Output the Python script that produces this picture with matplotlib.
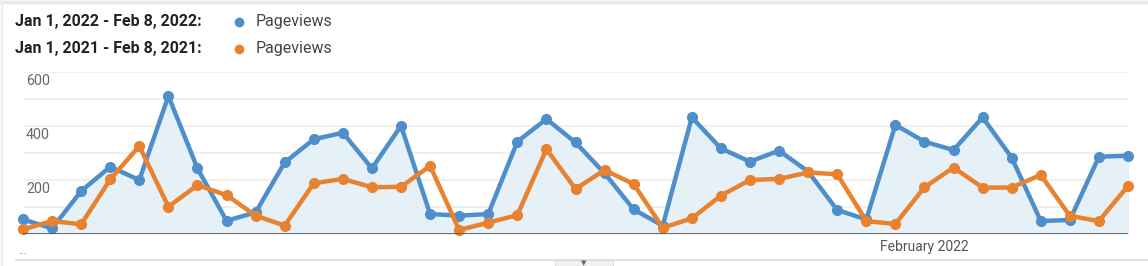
import matplotlib.pyplot as plt
from matplotlib.patches import Rectangle
from matplotlib.lines import Line2D

plt.rcParams['font.family'] = ['Roboto', 'DejaVu Sans']

# daily pageviews, Jan 1 - Feb 8
days = list(range(39))
views_2022 = [54, 21, 159, 249, 200, 511, 243, 49, 80, 265, 351, 375, 243, 401,
              74, 68, 74, 342, 426, 339, 225, 91, 31, 432, 317, 268, 309, 231,
              89, 54, 404, 342, 311, 432, 283, 48, 52, 286, 290]
views_2021 = [17, 48, 36, 202, 326, 101, 181, 144, 68, 31, 188, 204, 173, 175,
              252, 15, 42, 70, 314, 167, 237, 185, 23, 58, 142, 200, 204, 228,
              221, 48, 37, 173, 246, 172, 172, 219, 67, 48, 178]
yticks = [200, 400, 600]
legend_rows = ["Jan 1, 2022 - Feb 8, 2022:", "Jan 1, 2021 - Feb 8, 2021:"]
blue = '#4e8fcb'
orange = '#e8822f'

W, H = 1148, 266
fig = plt.figure(figsize=(W / 100, H / 100), dpi=100)
ax = fig.add_axes([23 / W, (H - 234) / H, (1128 - 23) / W, (234 - 72) / H])

ax.fill_between(days, views_2022, 0, color='#e5f0f7', zorder=1)
ax.plot(days, views_2022, color=blue, lw=3.2, marker='o', ms=7, clip_on=False, zorder=3)
ax.plot(days, views_2021, color=orange, lw=3.2, marker='o', ms=7, clip_on=False, zorder=4)

ax.set_xlim(0, 38)
ax.set_ylim(0, 600)
for v in range(100, 601, 100):
    ax.axhline(v, color='#eeeeee', lw=1.2, zorder=0)
ax.axhline(0, color='#555555', lw=1.2, zorder=5)
for v in yticks:
    ax.text(0.1, v - 8, str(v), ha='left', va='top', fontsize=10.3, color='#666666', zorder=6)
ax.text(31, -48, 'February 2022', ha='center', va='center', fontsize=10, color='#555555',
        clip_on=False)
ax.set_xticks([])
ax.set_yticks([])
for s in ax.spines.values():
    s.set_visible(False)
ax.patch.set_alpha(0)

# legend
for i, (label, c) in enumerate(zip(legend_rows, [blue, orange])):
    y = 1 - (22 + 27 * i) / H
    fig.text(15 / W, y, label, fontsize=11.5, fontweight='bold', color='#222222', va='center')
    fig.add_artist(Line2D([239 / W], [y], marker='o', ms=6, color=c, lw=0))
    fig.text(256 / W, y, 'Pageviews', fontsize=11.5, color='#444444', va='center')

# frame bits
fig.add_artist(Line2D([0, 1], [1 - 1.5 / H, 1 - 1.5 / H], color='#e8e8e8', lw=2.5))
fig.add_artist(Line2D([2 / W, 2 / W], [0, 1], color='#eeeeee', lw=1.5))
fig.add_artist(Line2D([16 / W, 1], [1 - 260 / H, 1 - 260 / H], color='#dddddd', lw=1.2))
fig.add_artist(Rectangle((555 / W, 0), 58 / W, 6 / H, facecolor='#f1f1f1', edgecolor='#dddddd', lw=0.8))
fig.text(584 / W, 2.5 / H, '▼', fontsize=5, color='#666666', ha='center', va='center')
fig.text(18 / W, 1 - 251 / H, '...', fontsize=8, color='#777777', va='center')

fig.savefig('out.png', dpi=100)
